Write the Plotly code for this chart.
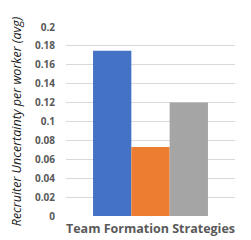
import plotly.graph_objects as go

categories = [""]
series_names = ["Strategy A", "Strategy B", "Strategy C"]
series_values = [[0.175], [0.073], [0.12]]
colors = ["#4472C4", "#ED7D31", "#A5A5A5"]
y_ticks = [0, 0.02, 0.04, 0.06, 0.08, 0.1, 0.12, 0.14, 0.16, 0.18, 0.2]
y_ticklabels = ["0", "0.02", "0.04", "0.06", "0.08", "0.1", "0.12", "0.14", "0.16", "0.18", "0.2"]

fig = go.Figure()
for name, vals, c in zip(series_names, series_values, colors):
    fig.add_trace(go.Bar(x=categories, y=vals, name=name, marker=dict(color=c, line=dict(width=0))))

fig.update_layout(
    width=251, height=240,
    margin=dict(l=58, r=24, t=19, b=32),
    paper_bgcolor="white", plot_bgcolor="white",
    barmode="group", bargap=0.32, bargroupgap=0,
    showlegend=False,
    font=dict(family="Open Sans", color="#595959"),
)
fig.update_yaxes(
    range=[0, 0.2], tickvals=y_ticks, ticktext=["<b>%s</b>" % t for t in y_ticklabels],
    showgrid=True, gridcolor="#D9D9D9", gridwidth=1, zeroline=False,
    showline=False, ticks="", ticklabelstandoff=10,
    tickfont=dict(size=10, color="#595959", family="Open Sans"),
    title=dict(text="<i>Recruiter Uncertainty per worker (avg)</i>", standoff=11,
               font=dict(size=12.5, color="#1a1a1a", family="Open Sans")),
    automargin=False,
)
fig.update_xaxes(
    showticklabels=False, showline=False, ticks="",
    title=dict(text="<b>Team Formation Strategies</b>", standoff=8,
               font=dict(size=12.5, color="#595959", family="Open Sans")),
    automargin=False,
)
fig.write_html("out.html")
